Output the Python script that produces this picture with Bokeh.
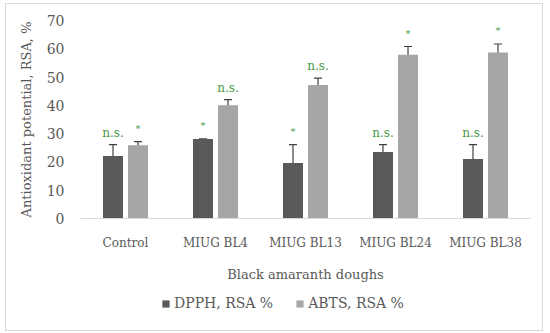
from bokeh.plotting import figure
from bokeh.layouts import column
from bokeh.models import ColumnDataSource, Whisker, Legend, LegendItem, TeeHead, FixedTicker
from bokeh.transform import dodge
from bokeh.core.properties import value
from bokeh.embed import file_html
from bokeh.resources import INLINE

categories = ["Control", "MIUG BL4", "MIUG BL13", "MIUG BL24", "MIUG BL38"]
dpph = [22.1, 28.1, 19.6, 23.5, 21.0]
dpph_err = [4.0, 0.0, 6.5, 2.6, 5.1]
abts = [25.9, 40.0, 47.2, 57.9, 58.7]
abts_err = [1.3, 2.0, 2.4, 2.9, 3.0]
dpph_sig = ["n.s.", "*", "*", "n.s.", "n.s."]
abts_sig = ["*", "n.s.", "n.s.", "*", "*"]
y_ticks = [0, 10, 20, 30, 40, 50, 60, 70]
series_names = ["DPPH, RSA %", "ABTS, RSA %"]

FONT = "DejaVu Serif"
TXT = "#595959"
GREEN = "#4a9a4a"
DARK = "#595959"
LIGHT = "#a6a6a6"

src = ColumnDataSource(dict(
    cat=categories,
    dpph=dpph,
    dpph_hi=[v + e for v, e in zip(dpph, dpph_err)],
    dpph_lo=[v - e for v, e in zip(dpph, dpph_err)],
    abts=abts,
    abts_hi=[v + e for v, e in zip(abts, abts_err)],
    abts_lo=[v - e for v, e in zip(abts, abts_err)],
    dpph_star=[s if s == "*" else "" for s in dpph_sig],
    dpph_ns=[s if s != "*" else "" for s in dpph_sig],
    abts_star=[s if s == "*" else "" for s in abts_sig],
    abts_ns=[s if s != "*" else "" for s in abts_sig],
))

p = figure(x_range=categories, y_range=(0, 70), width=536, height=286,
           output_backend="svg", toolbar_location=None,
           min_border_left=74, min_border_right=12, min_border_top=16, min_border_bottom=72)

off = 0.139
bw = 0.222
p.vbar(x=dodge("cat", -off, range=p.x_range), top="dpph", width=bw, source=src,
       fill_color=DARK, line_color=None)
p.vbar(x=dodge("cat", off, range=p.x_range), top="abts", width=bw, source=src,
       fill_color=LIGHT, line_color=None)

for key, o in (("dpph", -off), ("abts", off)):
    w = Whisker(base=dodge("cat", o, range=p.x_range), upper=key + "_hi", lower=key + "_lo",
                source=src, line_color="#404040", line_width=1.2,
                upper_head=TeeHead(size=8, line_color="#404040", line_width=1.2),
                lower_head=TeeHead(size=8, line_color="#404040", line_width=1.2))
    p.add_layout(w)
    p.text(x=dodge("cat", o, range=p.x_range), y=key + "_hi", text=key + "_ns", source=src,
           text_font=value(FONT), text_font_size="12px", text_color=GREEN,
           text_align="center", text_baseline="bottom", y_offset=-5)
    p.text(x=dodge("cat", o, range=p.x_range), y=key + "_hi", text=key + "_star", source=src,
           text_font=value(FONT), text_font_size="10px", text_color=GREEN,
           text_align="center", text_baseline="bottom", y_offset=-8)

p.xgrid.visible = False
p.ygrid.visible = False
p.outline_line_color = None
p.border_fill_color = "white"

p.yaxis.ticker = FixedTicker(ticks=y_ticks)
p.yaxis.axis_line_color = None
p.yaxis.major_tick_line_color = None
p.yaxis.minor_tick_line_color = None
p.yaxis.axis_label = "Antioxidant potential, RSA, %"
p.xaxis.axis_label = "Black amaranth doughs"
p.xaxis.axis_line_color = "#d9d9d9"
p.xaxis.major_tick_line_color = None
p.xaxis.minor_tick_line_color = None
for ax in (p.xaxis[0], p.yaxis[0]):
    ax.major_label_text_font = FONT
    ax.major_label_text_font_size = "12px"
    ax.major_label_text_color = TXT
    ax.axis_label_text_font = FONT
    ax.axis_label_text_font_size = "13px"
    ax.axis_label_text_color = TXT
    ax.axis_label_text_font_style = "normal"
p.yaxis.major_label_text_font_size = "14px"
p.xaxis.major_label_standoff = 11
p.xaxis.axis_label_standoff = 14
p.yaxis.major_label_standoff = 10
p.yaxis.axis_label_standoff = 10

# legend strip below the chart; its glyphs draw the series out of view
lg = figure(width=536, height=40, x_range=(0, 1), y_range=(0, 1),
            output_backend="svg", toolbar_location=None,
            min_border=0, min_border_left=0, min_border_right=0,
            min_border_top=0, min_border_bottom=0)
lg.axis.visible = False
lg.grid.visible = False
lg.outline_line_color = None
lr1 = lg.rect(x="dpph", y="dpph", width=1, height=1, source=src,
              fill_color=DARK, line_color=None)
lr2 = lg.rect(x="abts", y="abts", width=1, height=1, source=src,
              fill_color=LIGHT, line_color=None)
legend = Legend(items=[LegendItem(label=series_names[0], renderers=[lr1], index=0),
                       LegendItem(label=series_names[1], renderers=[lr2], index=0)],
                orientation="horizontal", location=(81, 19),
                label_text_font=FONT, label_text_font_size="14px", label_text_color=TXT,
                glyph_width=9, glyph_height=9, label_standoff=4, spacing=22,
                border_line_color=None, background_fill_alpha=0, padding=0, margin=0)
lg.add_layout(legend, "center")

layout = column(p, lg, spacing=0)
layout.margin = (3, 0, 0, 5)
layout.styles = {"border": "1px solid #d9d9d9"}

open("out.html", "w").write(file_html(layout, INLINE))
